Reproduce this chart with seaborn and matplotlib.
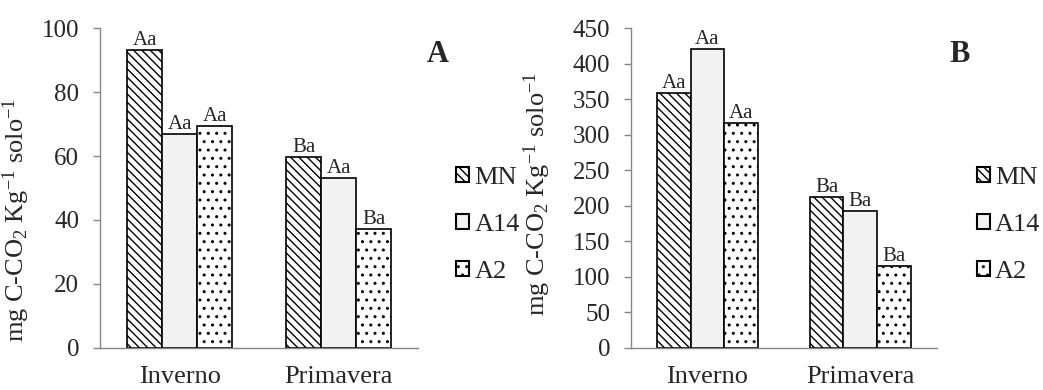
import matplotlib
matplotlib.use("Agg")
import matplotlib.pyplot as plt
import seaborn as sns
import pandas as pd
from matplotlib.patches import Patch

# data
seasons = ["Inverno", "Primavera"]
treatments = ["MN", "A14", "A2"]
values_a = {"MN": [93, 59.7], "A14": [67, 53], "A2": [69.5, 37.3]}
values_b = {"MN": [359, 213], "A14": [421, 193], "A2": [317, 115]}
letters_a = {"MN": ["Aa", "Ba"], "A14": ["Aa", "Aa"], "A2": ["Aa", "Ba"]}
letters_b = {"MN": ["Aa", "Ba"], "A14": ["Aa", "Ba"], "A2": ["Aa", "Ba"]}

sns.set_style("white")
plt.rcParams["font.family"] = ["Liberation Serif", "DejaVu Serif"]
plt.rcParams["mathtext.fontset"] = "custom"
plt.rcParams["mathtext.rm"] = "Liberation Serif"
plt.rcParams["mathtext.it"] = "Liberation Serif:italic"
plt.rcParams["mathtext.default"] = "regular"
plt.rcParams["hatch.linewidth"] = 1.0

styles = {
    "MN": dict(facecolor="white", hatch="\\\\\\\\"),
    "A14": dict(facecolor="#f2f2f2", hatch=""),
    "A2": dict(facecolor="white", hatch=".."),
}
axis_gray = "#868686"


def to_frame(values):
    rows = []
    for t in treatments:
        for s, v in zip(seasons, values[t]):
            rows.append({"season": s, "trat": t, "value": v})
    return pd.DataFrame(rows)


def draw_panel(ax, values, letters, ymax, step, tag, tag_x, leg_x, ylab_pos):
    df = to_frame(values)
    sns.barplot(data=df, x="season", y="value", hue="trat", hue_order=treatments,
                order=seasons, ax=ax, width=0.66, errorbar=None, legend=False)
    for t, cont in zip(treatments, ax.containers):
        for bar in cont:
            bar.set_facecolor(styles[t]["facecolor"])
            bar.set_hatch(styles[t]["hatch"])
            bar.set_edgecolor("black")
            bar.set_linewidth(1.2)
        ax.bar_label(cont, labels=letters[t], padding=0, fontsize=15)

    ax.set_ylim(0, ymax)
    ax.set_yticks(range(0, ymax + 1, step))
    ax.set_xlim(-0.5, 1.5)
    ax.set_xticks([-0.5, 0.5, 1.5], minor=True)
    ax.tick_params(axis="x", which="major", length=0, labelsize=19, pad=13)
    ax.tick_params(axis="x", which="minor", length=5, color=axis_gray, width=1)
    ax.tick_params(axis="y", length=5, color=axis_gray, width=1, labelsize=18, left=True, pad=10)
    for side in ["top", "right"]:
        ax.spines[side].set_visible(False)
    for side in ["left", "bottom"]:
        ax.spines[side].set_color(axis_gray)
        ax.spines[side].set_linewidth(1)
    ax.set_xlabel("")
    ax.set_ylabel("mg C-CO$_2$ Kg$^{-1}$ solo$^{-1}$", fontsize=19)
    ax.yaxis.set_label_coords(*ylab_pos)

    ax.text(tag_x, 0.916, tag, transform=ax.transAxes, fontsize=22, fontweight="bold",
            ha="center", va="center")
    handles = [Patch(facecolor=styles[t]["facecolor"], hatch=styles[t]["hatch"],
                     edgecolor="black", linewidth=1.5) for t in treatments]
    ax.legend(handles, treatments, loc="center left", bbox_to_anchor=(leg_x, 0.384),
              frameon=False, fontsize=19, handlelength=0.5, handleheight=0.5,
              handletextpad=0.2, labelspacing=0.95, borderpad=0, borderaxespad=0)


fig = plt.figure(figsize=(10.43, 3.9), dpi=100)
ax_a = fig.add_axes([0.096, 0.108, 0.305, 0.82])
ax_b = fig.add_axes([0.605, 0.108, 0.293, 0.82])

draw_panel(ax_a, values_a, letters_a, 100, 20, "A", 1.06, 1.119, (-0.214, 0.40))
draw_panel(ax_b, values_b, letters_b, 450, 50, "B", 1.075, 1.131, (-0.255, 0.48))

fig.savefig("out.png", dpi=100)
